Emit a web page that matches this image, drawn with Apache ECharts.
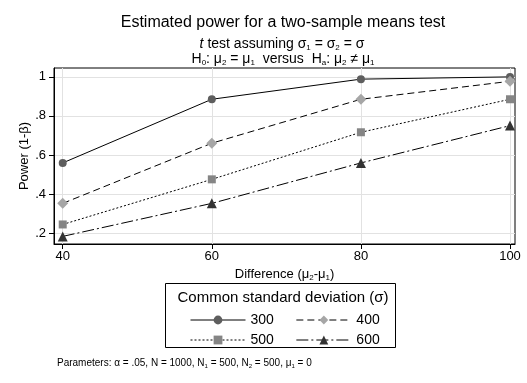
<!DOCTYPE html>
<html>
<head>
<meta charset="utf-8">
<script src="https://cdn.jsdelivr.net/npm/echarts@6/dist/echarts.min.js"></script>
<style>html,body{margin:0;padding:0;background:#fff}#c{width:527px;height:383px}</style>
</head>
<body>
<div id="c"></div>
<script>
const differences = [40, 60, 80, 100];
const power300 = [0.559, 0.885, 0.988, 0.9995];
const power400 = [0.352, 0.660, 0.885, 0.977];
const power500 = [0.244, 0.475, 0.716, 0.885];
const power600 = [0.183, 0.352, 0.559, 0.750];
const xTicks = [40, 60, 80, 100];
const yTicks = [0.2, 0.4, 0.6, 0.8, 1];
const seriesNames = ['300', '400', '500', '600'];

const FF = '"Liberation Sans", Arial, Helvetica, sans-serif';
const chart = echarts.init(document.getElementById('c'), null, {renderer: 'canvas'});

function pairs(ys) { return differences.map((x, i) => [x, ys[i]]); }
function yFmt(v) {
  if (Math.abs(v - 1) < 1e-9) return '1';
  return String(Math.round(v * 10) / 10).replace(/^0/, '');
}

const sub = {fontSize: 8, verticalAlign: 'bottom', lineHeight: 10, fontFamily: FF, fill: '#000'};
const nrm = (sz) => ({fontSize: sz, lineHeight: 16, fontFamily: FF, fill: '#000'});
const legendCommon = {orient: 'horizontal', itemWidth: 55, itemHeight: 11, itemGap: 22, padding: 0,
  textStyle: {fontSize: 14, fontFamily: FF, color: '#000'}, selectedMode: false,
  lineStyle: {width: 1, color: '#000'}};

chart.setOption({
  animation: false,
  backgroundColor: '#fff',
  grid: {left: 54, top: 68, right: 12, bottom: 139, show: true, borderColor: '#000', borderWidth: 1, backgroundColor: 'transparent'},
  xAxis: {
    type: 'value', min: 38.83, max: 100.67,
    name: '{n|Difference (μ}{s|2}{n|-μ}{s|1}{n|)}',
    nameLocation: 'middle', nameGap: 22, nameMoveOverlap: false,
    nameTextStyle: {rich: {n: {fontSize: 13, fontFamily: FF, color: '#000', lineHeight: 16}, s: {fontSize: 8, fontFamily: FF, color: '#000', verticalAlign: 'bottom', lineHeight: 10}}},
    axisLine: {show: true, onZero: false, lineStyle: {color: '#000', width: 1}},
    axisTick: {show: true, length: 5, customValues: xTicks, lineStyle: {color: '#000'}},
    axisLabel: {customValues: xTicks, fontSize: 13, fontFamily: FF, color: '#000', margin: 6},
    splitLine: {show: true, lineStyle: {color: '#e2e2e2', width: 1}}
  },
  yAxis: {
    type: 'value', min: 0.144, max: 1.045,
    name: 'Power (1-β)', nameLocation: 'middle', nameGap: 23, nameMoveOverlap: false,
    nameTextStyle: {fontSize: 13, fontFamily: FF, color: '#000'},
    axisLine: {show: true, onZero: false, lineStyle: {color: '#000', width: 1}},
    axisTick: {show: true, length: 5, customValues: yTicks, lineStyle: {color: '#000'}},
    axisLabel: {customValues: yTicks, formatter: yFmt, fontSize: 13, fontFamily: FF, color: '#000', margin: 8},
    splitLine: {show: true, lineStyle: {color: '#e2e2e2', width: 1}}
  },
  legend: [
    Object.assign({data: [seriesNames[0], seriesNames[1]], left: 190, top: 313}, legendCommon),
    Object.assign({data: [seriesNames[2], seriesNames[3]], left: 190, top: 333}, legendCommon)
  ],
  series: [
    {name: seriesNames[0], type: 'line', data: pairs(power300), symbol: 'circle', symbolSize: 8,
     lineStyle: {color: '#000', width: 1, type: 'solid'}, itemStyle: {color: '#5e5e5e'}},
    {name: seriesNames[1], type: 'line', data: pairs(power400), symbol: 'diamond', symbolSize: 11,
     lineStyle: {color: '#000', width: 1, type: [7, 4]}, itemStyle: {color: '#a6a6a6'}},
    {name: seriesNames[2], type: 'line', data: pairs(power500), symbol: 'rect', symbolSize: 8,
     lineStyle: {color: '#000', width: 1, type: [2, 2]}, itemStyle: {color: '#858585'}},
    {name: seriesNames[3], type: 'line', data: pairs(power600), symbol: 'triangle', symbolSize: 10,
     lineStyle: {color: '#000', width: 1, type: [12, 3, 2, 3]}, itemStyle: {color: '#333333'}}
  ],
  graphic: [
    {type: 'text', x: 283, y: 15, style: {text: 'Estimated power for a two-sample means test', fontSize: 16, fontFamily: FF, fill: '#000', align: 'center', textAlign: 'center'}},
    {type: 'text', x: 282, y: 36, style: {textAlign: 'center', align: 'center', text: '{i|t}{n| test assuming σ}{s|1}{n| = σ}{s|2}{n| = σ}', rich: {i: Object.assign({}, nrm(14), {fontStyle: 'italic'}), n: nrm(14), s: sub}}},
    {type: 'text', x: 283, y: 51, style: {textAlign: 'center', align: 'center', text: '{n|H}{s|0}{n|: μ}{s|2}{n| = μ}{s|1}{n|  versus  H}{s|a}{n|: μ}{s|2}{n| ≠ μ}{s|1}', rich: {n: nrm(14), s: sub}}},
    {type: 'rect', shape: {x: 165.5, y: 283.5, width: 230, height: 64}, style: {fill: 'none', stroke: '#000', lineWidth: 1}},
    {type: 'text', x: 283, y: 290, style: {textAlign: 'center', align: 'center', text: 'Common standard deviation (σ)', fontSize: 15, fontFamily: FF, fill: '#000'}},
    {type: 'text', left: 57, top: 358, style: {text: '{n|Parameters: α = .05, N = 1000, N}{s|1}{n| = 500, N}{s|2}{n| = 500, μ}{s|1}{n| = 0}',
      rich: {n: {fontSize: 10, lineHeight: 12, fontFamily: FF, fill: '#000'}, s: {fontSize: 6, lineHeight: 8, verticalAlign: 'bottom', fontFamily: FF, fill: '#000'}}}}
  ]
});
</script>
</body>
</html>
